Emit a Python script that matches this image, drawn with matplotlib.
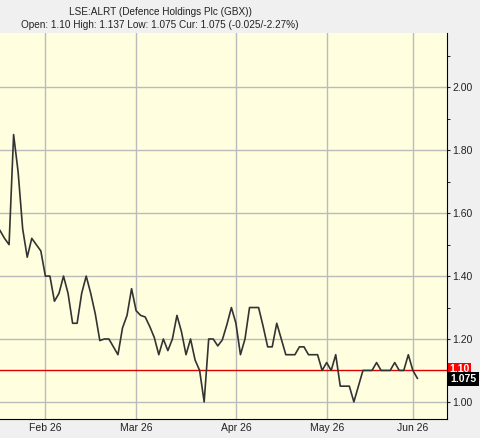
import matplotlib.pyplot as plt
import numpy as np
from matplotlib.ticker import MultipleLocator
import matplotlib.transforms as mtransforms

plt.rcParams['font.family'] = ['Liberation Sans', 'DejaVu Sans']

# daily closes, one per trading day
prices = [1.545, 1.52, 1.50, 1.85, 1.73, 1.55, 1.46, 1.52, 1.50, 1.48,
          1.40, 1.40, 1.32, 1.345, 1.40, 1.345, 1.25, 1.25, 1.345, 1.40,
          1.345, 1.28, 1.195, 1.20, 1.20, 1.175, 1.15, 1.235, 1.275, 1.36,
          1.29, 1.275, 1.27, 1.24, 1.205, 1.15, 1.20, 1.163, 1.20, 1.275,
          1.223, 1.15, 1.20, 1.133, 1.10, 1.00, 1.20, 1.20, 1.178, 1.197,
          1.245, 1.30, 1.25, 1.15, 1.20, 1.30, 1.30, 1.30, 1.24, 1.175,
          1.175, 1.25, 1.20, 1.15, 1.15, 1.15, 1.175, 1.175, 1.15, 1.15,
          1.15, 1.10, 1.125, 1.10, 1.15, 1.05, 1.05, 1.05, 1.00, 1.05,
          1.10, 1.10, 1.10, 1.125, 1.10, 1.10, 1.10, 1.125, 1.10, 1.10,
          1.15, 1.10, 1.075]
tick_days = [10, 30, 52, 72, 91]
tick_names = ['Feb 26', 'Mar 26', 'Apr 26', 'May 26', 'Jun 26']
open_price = 1.10
cur_price = 1.075

fig = plt.figure(figsize=(4.8, 4.38), dpi=100, facecolor='#f0f0f0')
ax = fig.add_axes([0.0, 0.0434, 0.931, 0.8813])
ax.set_facecolor('#ffffe0')

x = np.arange(len(prices))
ax.plot(x, prices, color='#333333', lw=1.2, zorder=3)
ax.axhline(open_price, color='#dd0000', lw=1, zorder=2)

ax.set_xlim(0, 98.5)
ax.set_ylim(0.9456, 2.173)

# axes / ticks
ax.yaxis.tick_right()
ax.yaxis.set_major_locator(MultipleLocator(0.2))
ax.yaxis.set_minor_locator(MultipleLocator(0.1))
ax.yaxis.set_major_formatter(lambda v, p: '%.2f' % v)
ax.set_xticks(tick_days)
ax.set_xticklabels(tick_names)
ax.tick_params(axis='both', labelsize=7.5, colors='#222222', length=2, pad=2)
ax.tick_params(axis='y', which='minor', length=2)
ax.tick_params(axis='x', length=0, pad=3)
ax.grid(True, color='#bbbbbb', lw=1, zorder=1)
ax.set_axisbelow(True)
for side in ['left', 'top']:
    ax.spines[side].set_visible(False)
ax.spines['right'].set_color('black')
ax.spines['bottom'].set_color('black')

# price tags on right
tr = mtransforms.blended_transform_factory(ax.transAxes, ax.transData)
ax.text(1.005, open_price + 0.004, '%.2f' % open_price, transform=tr, fontsize=7.5,
        color='white', va='center', ha='left', fontweight='bold',
        bbox=dict(boxstyle='square,pad=0.15', fc='#ff0000', ec='none'), clip_on=False, zorder=5)
ax.text(1.008, cur_price - 0.003, '%.3f' % cur_price, transform=tr, fontsize=7.5,
        color='white', va='center', ha='left', fontweight='bold',
        bbox=dict(boxstyle='square,pad=0.2', fc='black', ec='none'), clip_on=False, zorder=6)

# title lines
fig.text(160 / 480, 1 - 12 / 438, 'LSE:ALRT (Defence Holdings Plc (GBX))',
         ha='center', va='center', fontsize=7.2, color='#222222')
fig.text(160 / 480, 1 - 25 / 438, 'Open: 1.10 High: 1.137 Low: 1.075 Cur: 1.075 (-0.025/-2.27%)',
         ha='center', va='center', fontsize=7.2, color='#222222')

fig.savefig('out.png', dpi=100, facecolor=fig.get_facecolor())
